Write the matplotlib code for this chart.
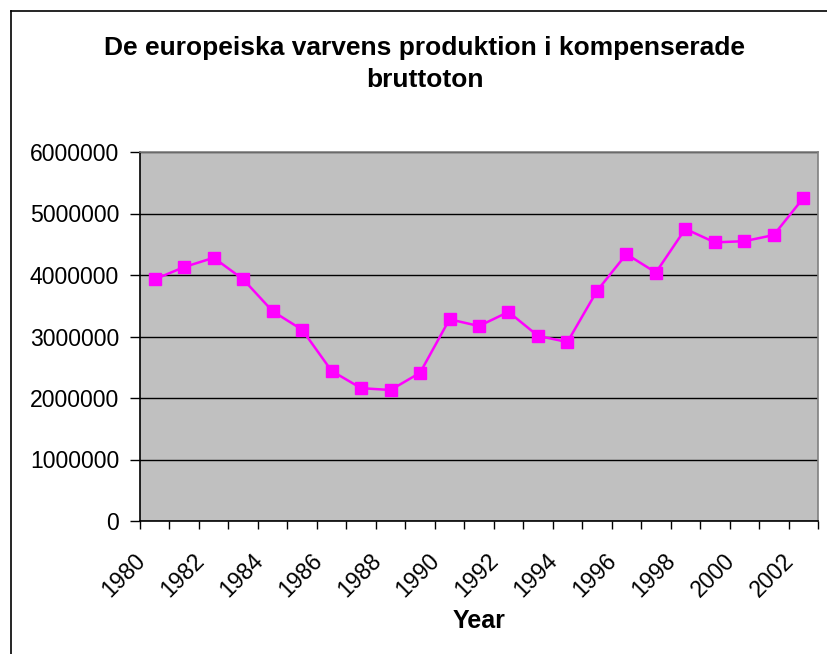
import numpy as np
import matplotlib
matplotlib.use("Agg")
import matplotlib.pyplot as plt
from matplotlib.lines import Line2D
from matplotlib.transforms import ScaledTranslation

plt.rcParams['font.family'] = ['Liberation Sans', 'DejaVu Sans']

# data
years = list(range(1980, 2003))
production = [3930000, 4130000, 4280000, 3930000, 3410000, 3110000, 2440000,
              2160000, 2130000, 2410000, 3280000, 3170000, 3400000, 3010000,
              2910000, 3740000, 4340000, 4040000, 4750000, 4530000, 4550000,
              4650000, 5250000]
y_ticks = [0, 1000000, 2000000, 3000000, 4000000, 5000000, 6000000]

title = 'De europeiska varvens produktion i kompenserade\nbruttoton'

fig = plt.figure(figsize=(8.27, 6.54), dpi=100)
ax = fig.add_axes([140/827, 1-521/654, (818-140)/827, (521-152)/654])
ax.set_facecolor('#C0C0C0')

x = np.arange(len(years))
ax.plot(x, production, color='#FF00FF', linewidth=1.8, marker='s',
        markersize=9, markerfacecolor='#FF00FF', markeredgecolor='#FF00FF',
        zorder=3)

ax.set_xlim(-0.5, len(years)-0.5)
ax.set_ylim(0, 6000000)
ax.set_yticks(y_ticks)
ax.set_yticklabels([str(v) for v in y_ticks], fontsize=16.6)
ax.yaxis.grid(True, color='black', linewidth=1)
ax.set_axisbelow(True)

# category boundaries carry the tick marks, labels every second year
ax.set_xticks(np.arange(-0.5, len(years), 1.0))
ax.set_xticklabels([])
ax.set_xticks(x[::2], minor=True)
ax.set_xticklabels([str(y) for y in years[::2]], minor=True, fontsize=16.6,
                   rotation=45, ha='right', va='top')
ax.tick_params(axis='x', which='minor', length=0, pad=20)
ax.tick_params(axis='x', which='major', length=6, width=1, direction='out')
ax.tick_params(axis='y', length=7, width=1, direction='out', pad=8)
shift = ScaledTranslation(-0.05, 0, fig.dpi_scale_trans)
for lab in ax.get_xticklabels(minor=True):
    lab.set_transform(lab.get_transform() + shift)

ax.spines['left'].set_color('black')
ax.spines['bottom'].set_color('black')
ax.spines['top'].set_color('#808080')
ax.spines['right'].set_color('#808080')
for s in ax.spines.values():
    s.set_linewidth(1.2)

ax.set_xlabel('Year', fontsize=18, fontweight='bold')
ax.xaxis.set_label_coords(0.5, -100/369, transform=ax.transAxes)
ax.xaxis.label.set_va('center')

fig.text(425/827, 1-64/654, title, ha='center', va='center', fontsize=19,
         fontweight='bold', linespacing=1.45)

# chart border (only top and left edges are inside the picture)
fig.add_artist(Line2D([11/827, 11/827], [0, 1-11/654], color='black',
                      linewidth=1.2, transform=fig.transFigure))
fig.add_artist(Line2D([11/827, 1], [1-11/654, 1-11/654], color='black',
                      linewidth=1.2, transform=fig.transFigure))

fig.savefig('out.png', dpi=100, facecolor='white')
